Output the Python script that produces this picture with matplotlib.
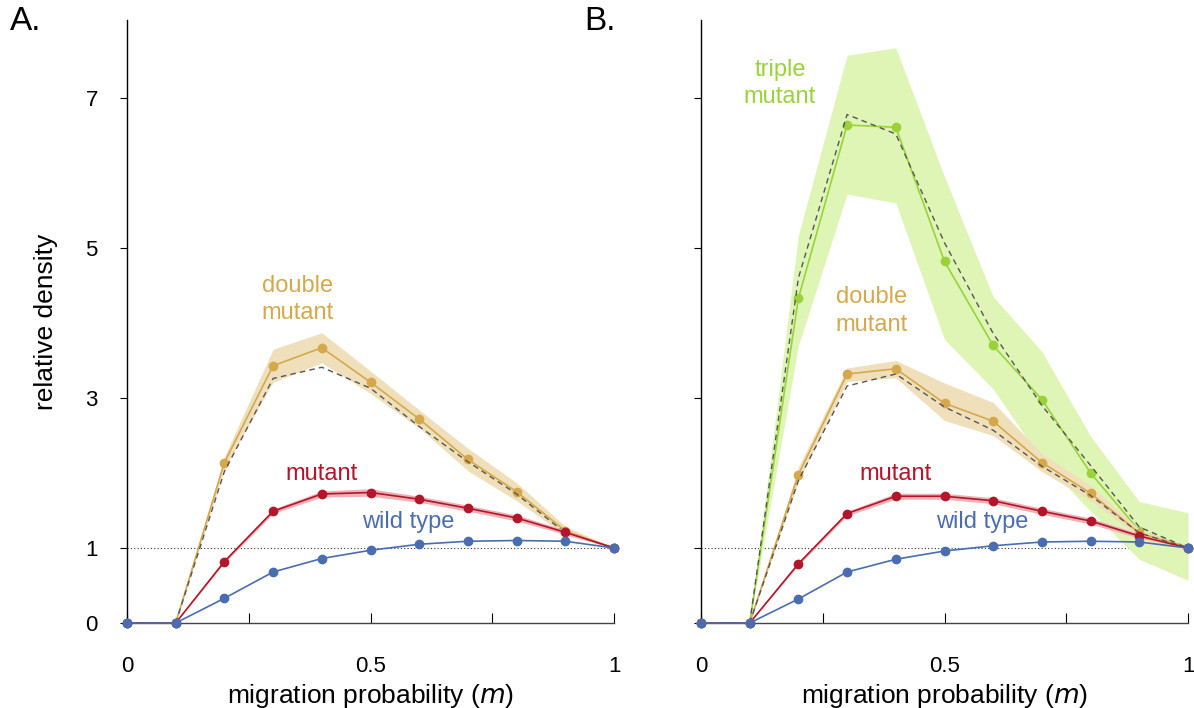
import numpy as np
import matplotlib
matplotlib.use("Agg")
import matplotlib.pyplot as plt

plt.rcParams['font.family'] = ['Liberation Sans', 'DejaVu Sans']

m = [0, 0.1, 0.2, 0.3, 0.4, 0.5, 0.6, 0.7, 0.8, 0.9, 1.0]

# panel A
wt_a = [0, 0, 0.33, 0.68, 0.86, 0.97, 1.05, 1.09, 1.10, 1.09, 1.0]
mut_a = [0, 0, 0.82, 1.49, 1.72, 1.74, 1.65, 1.53, 1.40, 1.21, 1.0]
mut_a_err = [0, 0, 0.02, 0.03, 0.04, 0.05, 0.04, 0.04, 0.04, 0.03, 0]
dbl_a = [0, 0, 2.14, 3.43, 3.67, 3.21, 2.72, 2.18, 1.75, 1.23, 1.0]
dbl_a_err = [0, 0, 0.08, 0.22, 0.2, 0.15, 0.12, 0.15, 0.12, 0.06, 0]
dbl_a_pred = [0, 0, 2.02, 3.26, 3.41, 3.13, 2.62, 2.15, 1.72, 1.2, 1.0]

# panel B
wt_b = [0, 0, 0.32, 0.68, 0.85, 0.96, 1.03, 1.08, 1.09, 1.08, 1.0]
mut_b = [0, 0, 0.79, 1.46, 1.69, 1.69, 1.63, 1.49, 1.36, 1.16, 1.0]
mut_b_err = [0, 0, 0.02, 0.03, 0.04, 0.04, 0.04, 0.04, 0.04, 0.03, 0]
dbl_b = [0, 0, 1.98, 3.32, 3.39, 2.93, 2.69, 2.14, 1.73, 1.2, 1.0]
dbl_b_lo = [0, 0, 1.88, 3.22, 3.27, 2.70, 2.50, 2.02, 1.63, 1.15, 1.0]
dbl_b_hi = [0, 0, 2.08, 3.40, 3.50, 3.20, 2.94, 2.26, 1.83, 1.25, 1.0]
dbl_b_pred = [0, 0, 1.9, 3.16, 3.32, 2.88, 2.57, 2.09, 1.70, 1.2, 1.0]
tri_b = [0, 0, 4.33, 6.64, 6.61, 4.82, 3.70, 2.98, 2.0, 1.23, 1.0]
tri_b_lo = [0, 0, 3.7, 5.72, 5.6, 3.78, 3.12, 2.17, 1.49, 0.85, 0.57]
tri_b_hi = [0, 0, 5.17, 7.57, 7.67, 5.95, 4.35, 3.62, 2.49, 1.62, 1.47]
tri_b_pred = [0, 0, 4.6, 6.78, 6.52, 5.07, 3.86, 2.9, 2.1, 1.28, 1.0]

c_wt = '#4a6db0'
c_mut = '#b3152b'
c_dbl = '#d6a84c'
c_tri = '#9ad23a'
c_dbl_band = '#efe0bb'
c_tri_band = '#dff5b6'
c_mut_band = '#eeb0b5'

fig = plt.figure(figsize=(11.94, 7.08), dpi=100)
axA = fig.add_axes([127/1194, 85/708, 487/1194, 603/708])
axB = fig.add_axes([701/1194, 85/708, 487/1194, 603/708])


def series(ax, y, color, band_lo=None, band_hi=None, band_color=None, z=3):
    if band_lo is not None:
        ax.fill_between(m, band_lo, band_hi, color=band_color, lw=0, zorder=z - 1)
    ax.plot(m, y, '-', color=color, lw=1.2, marker='o', ms=6, mec=color,
            clip_on=False, zorder=z)


for ax in (axA, axB):
    ax.axhline(1, color='#333333', lw=0.8, ls=(0, (1, 2)), zorder=1)
    ax.set_xlim(0, 1)
    ax.set_ylim(0, 8.04)
    ax.spines['top'].set_visible(False)
    ax.spines['right'].set_visible(False)
    ax.spines['left'].set_linewidth(1.0)
    ax.spines['bottom'].set_linewidth(1.0)
    ax.spines['bottom'].set_color('#444444')
    ax.set_yticks([0, 1, 3, 5, 7])
    ax.set_xticks([0, 0.25, 0.5, 0.75, 1])
    ax.set_xticklabels(['0', '', '0.5', '', '1'])
    ax.tick_params(axis='y', direction='out', length=5, labelsize=16, pad=16)
    ax.tick_params(axis='x', direction='in', length=7, labelsize=16, pad=24)
    ax.set_xlabel('migration probability ($\\it{m}$)', fontsize=19, labelpad=3)

# panel A
mut_a_lo = [v - e for v, e in zip(mut_a, mut_a_err)]
mut_a_hi = [v + e for v, e in zip(mut_a, mut_a_err)]
dbl_a_lo = [v - e for v, e in zip(dbl_a, dbl_a_err)]
dbl_a_hi = [v + e for v, e in zip(dbl_a, dbl_a_err)]
series(axA, dbl_a, c_dbl, dbl_a_lo, dbl_a_hi, c_dbl_band, z=3)
axA.plot(m, dbl_a_pred, color='#555555', lw=1.0, ls=(0, (4, 3)), zorder=4)
series(axA, mut_a, c_mut, mut_a_lo, mut_a_hi, c_mut_band, z=5)
series(axA, wt_a, c_wt, z=6)
axA.set_ylabel('relative density', fontsize=19, labelpad=20)
axA.text(0.35, 4.31, 'double\nmutant', color=c_dbl, fontsize=17, ha='center',
         va='center', linespacing=1.3)
axA.text(0.4, 1.98, 'mutant', color=c_mut, fontsize=17, ha='center', va='center')
axA.text(0.577, 1.35, 'wild type', color=c_wt, fontsize=17, ha='center', va='center')
fig.text(10/1194, 1 - 22/708, 'A.', fontsize=24, va='center')

# panel B
mut_b_lo = [v - e for v, e in zip(mut_b, mut_b_err)]
mut_b_hi = [v + e for v, e in zip(mut_b, mut_b_err)]
series(axB, tri_b, c_tri, tri_b_lo, tri_b_hi, c_tri_band, z=2)
axB.plot(m, tri_b_pred, color='#555555', lw=1.0, ls=(0, (4, 3)), zorder=3)
series(axB, dbl_b, c_dbl, dbl_b_lo, dbl_b_hi, c_dbl_band, z=4)
axB.plot(m, dbl_b_pred, color='#555555', lw=1.0, ls=(0, (4, 3)), zorder=5)
series(axB, mut_b, c_mut, mut_b_lo, mut_b_hi, c_mut_band, z=6)
series(axB, wt_b, c_wt, z=7)
axB.set_yticklabels([])
axB.text(0.162, 7.19, 'triple\nmutant', color=c_tri, fontsize=17, ha='center',
         va='center', linespacing=1.3)
axB.text(0.351, 4.16, 'double\nmutant', color=c_dbl, fontsize=17, ha='center',
         va='center', linespacing=1.3)
axB.text(0.4, 1.98, 'mutant', color=c_mut, fontsize=17, ha='center', va='center')
axB.text(0.577, 1.35, 'wild type', color=c_wt, fontsize=17, ha='center', va='center')
fig.text(584/1194, 1 - 22/708, 'B.', fontsize=24, va='center')

fig.savefig('out.png', dpi=100)
